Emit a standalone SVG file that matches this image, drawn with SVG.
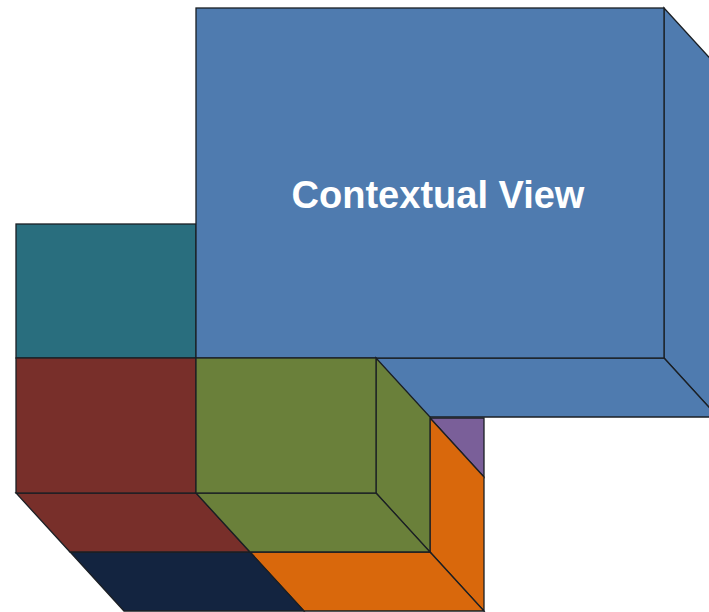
<svg xmlns="http://www.w3.org/2000/svg" width="709" height="612" viewBox="0 0 709 612">
<style>
.f{stroke:#1b1f24;stroke-width:1.3;stroke-linejoin:miter}
.blue{fill:#4F7BAF}.teal{fill:#296E7E}.red{fill:#782F2A}.green{fill:#6A803A}.navy{fill:#132440}.orange{fill:#D9680C}.purple{fill:#7A5F99}
.t{font-family:"Liberation Sans",Arial,sans-serif;font-weight:bold;font-size:38px;fill:#ffffff}
</style>
<rect width="709" height="612" fill="#ffffff"/>
<g id="teal-box">
<rect class="f teal" x="16" y="224" width="180" height="134"/>
</g>
<g id="purple-box">
<polygon class="f purple" points="430,418 484,418 484,477"/>
</g>
<g id="contextual-view">
<polygon class="f blue" points="664,8 718,67 718,417 664,358"/>
<polygon class="f blue" points="196,358 664,358 718,417 250,417"/>
<rect class="f blue" x="196" y="8" width="468" height="350"/>
<text class="t" x="438" y="208" text-anchor="middle">Contextual View</text>
</g>
<g id="orange-box">
<polygon class="f orange" points="430,418 484,477 484,611 430,552"/>
<polygon class="f orange" points="250,552 430,552 484,611 304,611"/>
</g>
<g id="navy-box">
<polygon class="f navy" points="70,552 250,552 304,611 124,611"/>
</g>
<g id="red-box">
<polygon class="f red" points="16,493 196,493 250,552 70,552"/>
<rect class="f red" x="16" y="358" width="180" height="135"/>
</g>
<g id="green-box">
<polygon class="f green" points="376,358 430,417 430,552 376,493"/>
<polygon class="f green" points="196,493 376,493 430,552 250,552"/>
<rect class="f green" x="196" y="358" width="180" height="135"/>
</g>
<g id="connectors"/>
</svg>
